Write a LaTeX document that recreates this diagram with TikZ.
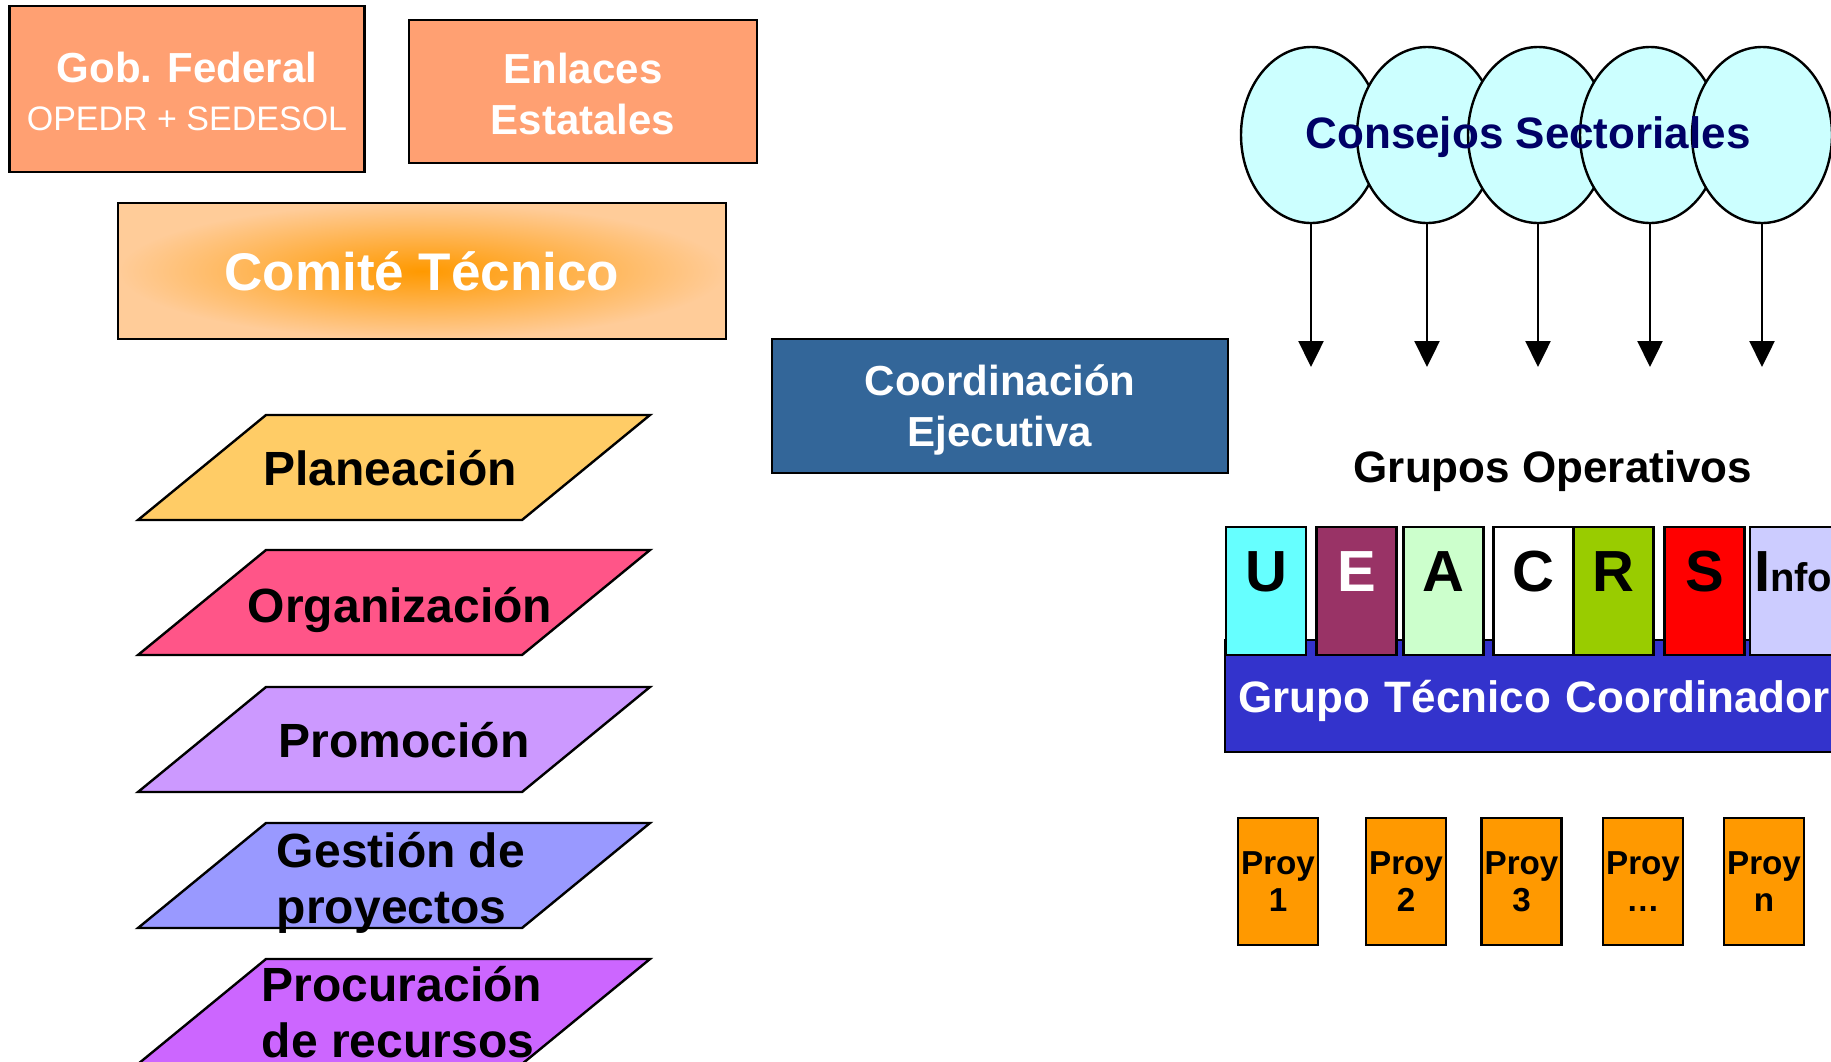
\documentclass[tikz,border=0pt]{standalone}
\usepackage{fontspec}
\setmainfont{Liberation Sans}
\usetikzlibrary{shapes.geometric,arrows.meta}

\definecolor{salmon}{HTML}{FFA072}
\definecolor{comnar}{HTML}{FF9900}
\definecolor{comclaro}{HTML}{FFCC99}
\definecolor{coordazul}{HTML}{336699}
\definecolor{planc}{HTML}{FFCC66}
\definecolor{orgc}{HTML}{FF5588}
\definecolor{promc}{HTML}{CC99FF}
\definecolor{gestc}{HTML}{9999FF}
\definecolor{procc}{HTML}{CC66FF}
\definecolor{celeste}{HTML}{CCFFFF}
\definecolor{marino}{HTML}{000066}
\definecolor{gtcazul}{HTML}{3333CC}
\definecolor{letu}{HTML}{66FFFF}
\definecolor{lete}{HTML}{993366}
\definecolor{leta}{HTML}{CCFFCC}
\definecolor{letr}{HTML}{99CC00}
\definecolor{lets}{HTML}{FF0000}
\definecolor{infoc}{HTML}{CCCCFF}
\definecolor{proyc}{HTML}{FF9900}

\begin{document}
\begin{tikzpicture}[line cap=round,line join=miter,x=0.5pt,y=-0.5pt,
    caja/.style={rectangle,draw=black,line width=1.2pt,inner sep=0pt,align=center},
    area/.style={font=\fontsize{24}{28}\selectfont\bfseries,align=left},
    consejo/.style={ellipse,draw=black,fill=celeste,line width=1.2pt,inner sep=0pt,
        minimum width=70pt,minimum height=88pt},
    flecha/.style={-{Triangle[length=13pt,width=12.5pt]},line width=1.2pt},
    letra/.style={caja,minimum width=40pt,minimum height=64pt,text height=11pt,text depth=11pt,
        font=\fontsize{29}{30}\selectfont\bfseries},
    proy/.style={caja,fill=proyc,minimum width=40pt,minimum height=63.5pt,
        font=\fontsize{16.6}{18.5}\selectfont\bfseries}]
    \useasboundingbox (0,0) rectangle (1831,1061);
    \clip (0,0) rectangle (1831,1061);
    % cajas de arriba
    \node[caja,fill=salmon,text=white,minimum width=177.5pt,minimum height=83pt,
        font=\fontsize{21}{24}\selectfont\bfseries] (gob) at (187,89)
        {\\[-6pt]Gob. Federal\\{\fontsize{17}{24}\selectfont\mdseries OPEDR + SEDESOL}};
    \node[caja,fill=salmon,text=white,minimum width=174pt,minimum height=71.5pt,
        font=\fontsize{21}{25.5}\selectfont\bfseries] (enl) at (583,91.5) {\\[-8pt]Enlaces\\Estatales};
    \node[caja,inner color=comnar,outer color=comclaro,text=white,minimum width=304pt,
        minimum height=68pt,font=\fontsize{26.5}{30}\selectfont\bfseries] (com) at (422,271) {Comité Técnico};
    \node[caja,fill=coordazul,text=white,minimum width=228pt,minimum height=67pt,
        font=\fontsize{21}{25.5}\selectfont\bfseries] (coord) at (1000,406) {\\[-6pt]Coordinación\\Ejecutiva};
    % areas
    \foreach \n/\x/\y/\dy/\col/\txt in {plan/390/415/53/planc/Planeación, org/400/550/60/orgc/Organización,
        prom/404/687/53/promc/Promoción, gest/401/823/60/gestc/{Gestión de\\proyectos},
        proc/402/959/53/procc/{Procuración\\de recursos}} {
        \filldraw[fill=\col,line width=1.2pt] (266,\y) -- (650,\y) -- (522,\y+105) -- (138,\y+105) -- cycle;
        \node[area] (\n) at (\x,\y+\dy) {\txt};
    }
    % consejos sectoriales
    \foreach \i/\x in {1/1311,2/1427,3/1538,4/1650,5/1762}
        \node[consejo] (cs\i) at (\x,135) {};
    \node[font=\fontsize{22}{26}\selectfont\bfseries,text=marino] (cstxt) at (1528,137) {Consejos Sectoriales};
    \foreach \i/\x in {1/1311,2/1427,3/1538,4/1650,5/1762} {
        \coordinate (ca\i) at (\x,367);
        \draw[flecha] (cs\i) -- (ca\i);
    }
    \node[font=\fontsize{22}{26}\selectfont\bfseries] (grop) at (1553,471) {Grupos Operativos};
    % grupo tecnico
    \node[caja,fill=gtcazul,text=white,minimum width=312.5pt,minimum height=56pt,inner xsep=6.5pt,
        text width=299.5pt,align=left,text depth=0pt,font=\fontsize{22}{26}\selectfont\bfseries]
        (gtc) at (1537.5,696) {Grupo Técnico Coordinador};
    \foreach \n/\x/\col/\tc/\l in {u/1266/letu/black/U, e/1356.5/lete/white/E, a/1443.5/leta/black/A,
        c/1533.5/white/black/C, r/1613.5/letr/black/R, s/1704.5/lets/black/S}
        \node[letra,fill=\col,text=\tc] (\n) at (\x,591) {\l};
    \node[letra,fill=infoc,minimum width=50pt,text width=46pt,inner xsep=2pt,align=left] (info) at (1800,591)
        {I{\fontsize{20}{20}\selectfont nfo}};
    % proyectos
    \foreach \i/\x/\t in {1/1278/1,2/1406/2,3/1521.5/3,4/1643/{\dots},5/1764/n}
        \node[proy] (proy\i) at (\x,881.5) {Proy\\\t};
\end{tikzpicture}
\end{document}
